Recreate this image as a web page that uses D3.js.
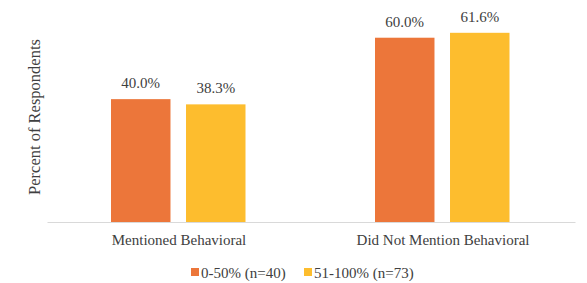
<!DOCTYPE html>
<html>
<head>
<meta charset="utf-8">
<script src="https://cdn.jsdelivr.net/npm/d3@7"></script>
<style>
  body { margin: 0; background: #fff; }
</style>
</head>
<body>
<div id="chart-area"></div>
<script>
// data
var categories = ['Mentioned Behavioral', 'Did Not Mention Behavioral'];
var seriesNames = ['0-50% (n=40)', '51-100% (n=73)'];
var seriesValues = [
  [40.0, 60.0],   // 0-50%
  [38.3, 61.6]    // 51-100%
];
var colors = ['#EC763A', '#FDBD2E'];

var FONT = '"Liberation Serif", "Times New Roman", Times, serif';
var width = 587, height = 283;
var margin = {top: 7, left: 47, right: 12, bottom: 61};
var plotW = width - margin.left - margin.right;
var plotH = height - margin.top - margin.bottom;

var svg = d3.select('#chart-area')
  .append('svg')
    .attr('width', width)
    .attr('height', height);

var g = svg.append('g')
  .attr('transform', 'translate(' + margin.left + ',' + margin.top + ')');

var x0 = d3.scaleBand()
  .domain(categories)
  .range([0, plotW])
  .padding(0);

// bar pair sits in the middle of each category band
var x1 = d3.scaleBand()
  .domain(seriesNames)
  .range([64, 198.5])
  .paddingInner(0.207)
  .paddingOuter(0);

var y = d3.scaleLinear()
  .domain([0, 70])
  .range([plotH, 0]);

var rows = [];
categories.forEach(function(c, ci) {
  seriesNames.forEach(function(s, si) {
    rows.push({cat: c, series: s, value: seriesValues[si][ci], color: colors[si]});
  });
});

// bars
g.selectAll('rect.bar')
  .data(rows)
  .enter().append('rect')
    .attr('class', 'bar')
    .attr('x', function(d) { return x0(d.cat) + x1(d.series); })
    .attr('y', function(d) { return y(d.value); })
    .attr('width', x1.bandwidth())
    .attr('height', function(d) { return plotH - y(d.value); })
    .attr('fill', function(d) { return d.color; });

// value labels
g.selectAll('text.val')
  .data(rows)
  .enter().append('text')
    .attr('class', 'val')
    .attr('x', function(d) { return x0(d.cat) + x1(d.series) + x1.bandwidth() / 2; })
    .attr('y', function(d) { return y(d.value) - 11; })
    .attr('text-anchor', 'middle')
    .style('font-family', FONT)
    .style('font-size', '15px')
    .style('fill', '#404040')
    .text(function(d) { return d3.format('.1f')(d.value) + '%'; });

// x axis
var xAxis = g.append('g')
  .attr('transform', 'translate(0,' + plotH + ')')
  .call(d3.axisBottom(x0).tickSize(0).tickPadding(0));
xAxis.select('.domain').attr('stroke', '#d9d9d9');
xAxis.selectAll('.tick text')
  .attr('y', 23)
  .attr('dy', 0)
  .style('font-family', FONT)
  .style('font-size', '15px')
  .style('fill', '#404040');

// y label
svg.append('text')
  .attr('transform', 'rotate(-90)')
  .attr('x', -117)
  .attr('y', 40)
  .attr('text-anchor', 'middle')
  .style('font-family', FONT)
  .style('font-size', '16.5px')
  .style('fill', '#404040')
  .text('Percent of Respondents');

// legend
var legendX = [191, 304];
var legend = svg.append('g');
seriesNames.forEach(function(s, i) {
  var row = legend.append('g').attr('transform', 'translate(' + legendX[i] + ',268)');
  row.append('rect')
    .attr('width', 8)
    .attr('height', 8)
    .attr('fill', colors[i]);
  row.append('text')
    .attr('x', 10)
    .attr('y', 10)
    .style('font-family', FONT)
    .style('font-size', '15px')
    .style('fill', '#404040')
    .text(s);
});
</script>
</body>
</html>
